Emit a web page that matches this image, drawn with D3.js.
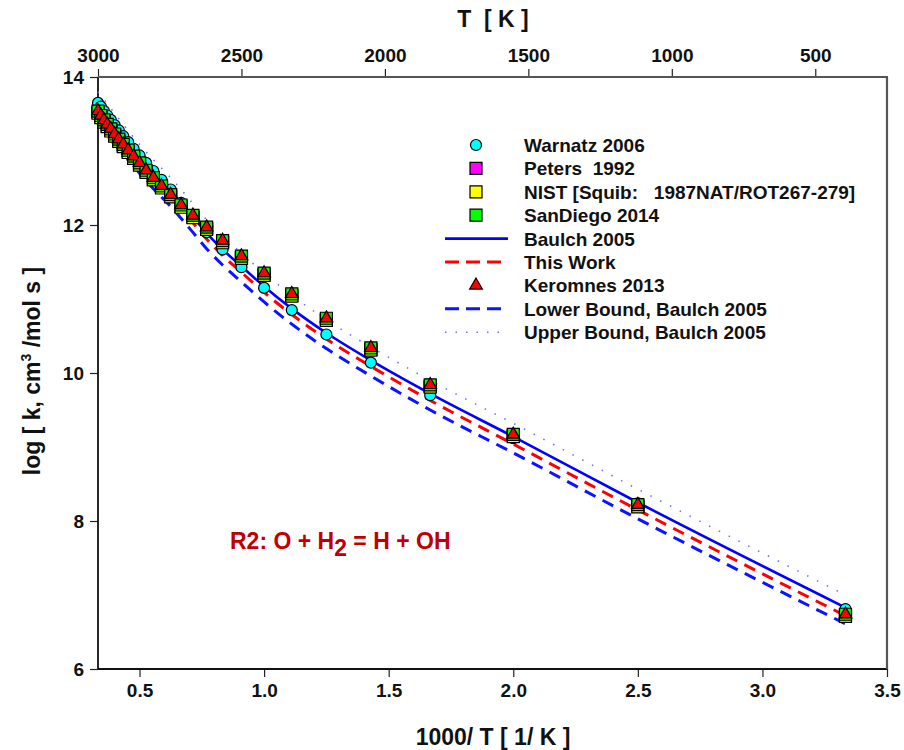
<!DOCTYPE html>
<html>
<head>
<meta charset="utf-8">
<script src="https://cdn.jsdelivr.net/npm/d3@7"></script>
<style>
  html, body { margin: 0; padding: 0; background: #fff; }
  svg { display: block; }
  text { font-family: "Liberation Sans", Arial, sans-serif; font-weight: bold; }
</style>
</head>
<body>
<svg id="chart" width="904" height="750"></svg>
<script>
// ---------------- data ----------------
const temps = [3000,2900,2800,2700,2600,2500,2400,2300,2200,2100,2000,1900,1800,1700,1600,1500,1400,1300,1200,1100,1000,900,800,700,600,500,400,300];

const warnatz  = [13.65,13.60,13.54,13.48,13.42,13.35,13.28,13.20,13.12,13.03,12.94,12.84,12.73,12.61,12.48,12.30,12.12,11.90,11.67,11.43,11.15,10.85,10.52,10.14,9.70,9.12,8.24,6.81];
const sandiego = [13.54,13.48,13.42,13.36,13.30,13.23,13.16,13.09,13.01,12.93,12.84,12.74,12.64,12.53,12.41,12.27,12.13,11.97,11.79,11.58,11.35,11.07,10.74,10.34,9.84,9.17,8.22,6.74];
const peters   = [13.52,13.46,13.40,13.34,13.28,13.21,13.14,13.07,12.99,12.91,12.82,12.72,12.62,12.51,12.39,12.25,12.11,11.95,11.77,11.56,11.33,11.05,10.72,10.32,9.82,9.15,8.20,6.72];
const nist     = [13.51,13.45,13.39,13.33,13.27,13.20,13.13,13.06,12.98,12.90,12.81,12.71,12.61,12.50,12.38,12.24,12.10,11.94,11.76,11.55,11.32,11.04,10.71,10.31,9.81,9.14,8.19,6.71];
const keromnes = [13.54,13.48,13.42,13.36,13.30,13.23,13.16,13.09,13.01,12.93,12.84,12.74,12.64,12.53,12.41,12.27,12.13,11.97,11.79,11.58,11.35,11.07,10.74,10.34,9.84,9.17,8.22,6.74];

const lineTemps = [3000,2500,2000,1800,1600,1500,1400,1300,1200,1100,1000,900,800,700,600,500,400,300];
const baulch   = [13.63,13.33,12.91,12.70,12.46,12.30,12.11,11.89,11.67,11.44,11.17,10.87,10.54,10.17,9.72,9.14,8.25,6.83];
const thisWork = [13.55,13.25,12.83,12.62,12.38,12.22,12.03,11.81,11.59,11.36,11.09,10.79,10.46,10.09,9.63,9.04,8.15,6.72];
const lowerB   = [13.42,13.12,12.70,12.49,12.25,12.09,11.90,11.68,11.46,11.23,10.96,10.66,10.33,9.96,9.50,8.92,8.03,6.61];
const upperB   = [13.80,13.51,13.09,12.88,12.64,12.48,12.29,12.07,11.85,11.62,11.35,11.05,10.72,10.35,9.90,9.32,8.43,7.00];

const xTicks = [0.5,1.0,1.5,2.0,2.5,3.0,3.5];
const yTicks = [6,8,10,12,14];
const tTicks = [3000,2500,2000,1500,1000,500];

const legendLabels = ["Warnatz 2006","Peters  1992","NIST [Squib:   1987NAT/ROT267-279]","SanDiego 2014","Baulch 2005","This Work","Keromnes 2013","Lower Bound, Baulch 2005","Upper Bound, Baulch 2005"];

// ---------------- layout ----------------
const svg = d3.select("#chart");
const L = 98, R = 887, T = 77, B = 669;
const FONT = '"Liberation Sans", Arial, sans-serif';
const NARROW = '"Liberation Sans Narrow", "Arial Narrow", "Liberation Sans", sans-serif';

const x = d3.scaleLinear().domain([1000/3000, 3.5]).range([L, R]);
const y = d3.scaleLinear().domain([6, 14]).range([B, T]);
const xT = d3.scaleLinear().domain([3000, 250]).range([L, R]);

// ---------------- axes ----------------
const bottomAxis = d3.axisBottom(x).tickValues(xTicks).tickFormat(d3.format(".1f")).tickSize(8).tickPadding(7);
const gB = svg.append("g").attr("transform", `translate(0,${B})`).call(bottomAxis);
const leftAxis = d3.axisLeft(y).tickValues(yTicks).tickFormat(d3.format("d")).tickSize(8).tickPadding(6);
const gL = svg.append("g").attr("transform", `translate(${L},0)`).call(leftAxis);
const topAxis = d3.axisTop(xT).tickValues(tTicks).tickFormat(d3.format("d")).tickSize(8).tickPadding(7);
const gT = svg.append("g").attr("transform", `translate(0,${T})`).call(topAxis);

[gB, gL, gT].forEach(g => {
  g.select(".domain").remove();
  g.selectAll(".tick line").attr("stroke", "#222").attr("stroke-width", 1.2);
  g.selectAll(".tick text").attr("fill", "#111").style("font-size", "19px")
    .style("font-family", FONT).style("font-weight", "bold");
});
gT.selectAll(".tick text").style("font-family", NARROW);

// frame
svg.append("line").attr("x1", L).attr("x2", L).attr("y1", T).attr("y2", B).attr("stroke", "#111").attr("stroke-width", 1.8);
svg.append("line").attr("x1", L).attr("x2", R).attr("y1", B).attr("y2", B).attr("stroke", "#111").attr("stroke-width", 1.8);
svg.append("line").attr("x1", L).attr("x2", R + 1).attr("y1", T).attr("y2", T).attr("stroke", "#555").attr("stroke-width", 2.2);
svg.append("line").attr("x1", R).attr("x2", R).attr("y1", T).attr("y2", B).attr("stroke", "#555").attr("stroke-width", 2.2);

// titles
svg.append("text").attr("x", 493).attr("y", 27).attr("text-anchor", "middle").style("font-size", "23px")
  .attr("xml:space", "preserve").attr("fill", "#111").text("T  [ K ]");
svg.append("text").attr("x", 493).attr("y", 745).attr("text-anchor", "middle").style("font-size", "23px").attr("fill", "#111").text("1000/ T [ 1/ K ]");
const yt = svg.append("text").attr("transform", "translate(40,371) rotate(-90)").attr("text-anchor", "middle").style("font-size", "23px").attr("fill", "#111");
yt.append("tspan").text("log [ k, cm");
yt.append("tspan").attr("dy", -9).style("font-size", "14px").text("3");
yt.append("tspan").attr("dy", 9).text(" /mol s ]");

// annotation
const ann = svg.append("text").attr("x", 230).attr("y", 549).style("font-size", "23px").attr("fill", "#c00000");
ann.append("tspan").text("R2: O + H");
ann.append("tspan").attr("dy", 7).text("2");
ann.append("tspan").attr("dy", -7).text(" = H + OH");

// ---------------- lines ----------------
const lineGen = d3.line().x(d => x(1000 / d[0])).y(d => y(d[1])).curve(d3.curveMonotoneX);
function lineData(vals) { return lineTemps.map((t, i) => [t, vals[i]]); }

const styles = {
  baulch: { stroke: "#0000ff", width: 2.6, dash: null },
  thisWork: { stroke: "#ff0000", width: 3, dash: "12,8" },
  lower: { stroke: "#0a14ff", width: 3, dash: "12,8" },
  upper: { stroke: "#7070ff", width: 1.6, dash: "1.5,9.5" }
};

const plotG = svg.append("g");
plotG.append("path").datum(lineData(upperB)).attr("d", lineGen).attr("fill", "none")
  .attr("stroke", styles.upper.stroke).attr("stroke-width", styles.upper.width).attr("stroke-dasharray", styles.upper.dash);
plotG.append("path").datum(lineData(lowerB)).attr("d", lineGen).attr("fill", "none")
  .attr("stroke", styles.lower.stroke).attr("stroke-width", styles.lower.width).attr("stroke-dasharray", styles.lower.dash);
plotG.append("path").datum(lineData(thisWork)).attr("d", lineGen).attr("fill", "none")
  .attr("stroke", styles.thisWork.stroke).attr("stroke-width", styles.thisWork.width).attr("stroke-dasharray", styles.thisWork.dash);
plotG.append("path").datum(lineData(baulch)).attr("d", lineGen).attr("fill", "none")
  .attr("stroke", styles.baulch.stroke).attr("stroke-width", styles.baulch.width);

// ---------------- markers ----------------
const circleSym = d3.symbol().type(d3.symbolCircle).size(Math.PI * 5.5 * 5.5);
const squareSym = d3.symbol().type(d3.symbolSquare).size(12 * 12);
const triSym = d3.symbol().type(d3.symbolTriangle).size(70);

function drawMarkers(vals, sym, fill) {
  plotG.append("g").selectAll("path").data(temps.map((t, i) => [t, vals[i]])).join("path")
    .attr("d", sym).attr("transform", d => `translate(${x(1000 / d[0])},${y(d[1])})`)
    .attr("fill", fill).attr("stroke", "#000").attr("stroke-width", 1.2);
}
drawMarkers(warnatz, circleSym, "#00ffff");
drawMarkers(peters, squareSym, "#ff00ff");
drawMarkers(nist, squareSym, "#ffff00");
drawMarkers(sandiego, squareSym, "#00ff00");
drawMarkers(keromnes, triSym, "#ff0000");

// ---------------- legend ----------------
const legX = 476, legTextX = 524, legY0 = 145, legDy = 23.4;
const legTypes = [
  { k: "m", sym: circleSym, fill: "#00ffff" },
  { k: "m", sym: squareSym, fill: "#ff00ff" },
  { k: "m", sym: squareSym, fill: "#ffff00" },
  { k: "m", sym: squareSym, fill: "#00ff00" },
  { k: "l", st: styles.baulch },
  { k: "l", st: styles.thisWork },
  { k: "m", sym: triSym, fill: "#ff0000" },
  { k: "l", st: styles.lower },
  { k: "l", st: styles.upper }
];
const leg = svg.append("g");
legTypes.forEach((d, i) => {
  const cy = legY0 + i * legDy;
  if (d.k === "m") {
    leg.append("path").attr("d", d.sym).attr("transform", `translate(${legX},${cy})`)
      .attr("fill", d.fill).attr("stroke", "#000").attr("stroke-width", 1.2);
  } else {
    const ln = leg.append("line").attr("x1", 445).attr("x2", 508).attr("y1", cy).attr("y2", cy)
      .attr("stroke", d.st.stroke).attr("stroke-width", d.st.width);
    if (d.st.dash) ln.attr("stroke-dasharray", d.st === styles.upper ? "1.5,9" : "14,7");
  }
  leg.append("text").attr("x", legTextX).attr("y", cy + 7).style("font-size", "19px")
    .attr("xml:space", "preserve").style("white-space", "pre").attr("fill", "#111").text(legendLabels[i]);
});
</script>
</body>
</html>
